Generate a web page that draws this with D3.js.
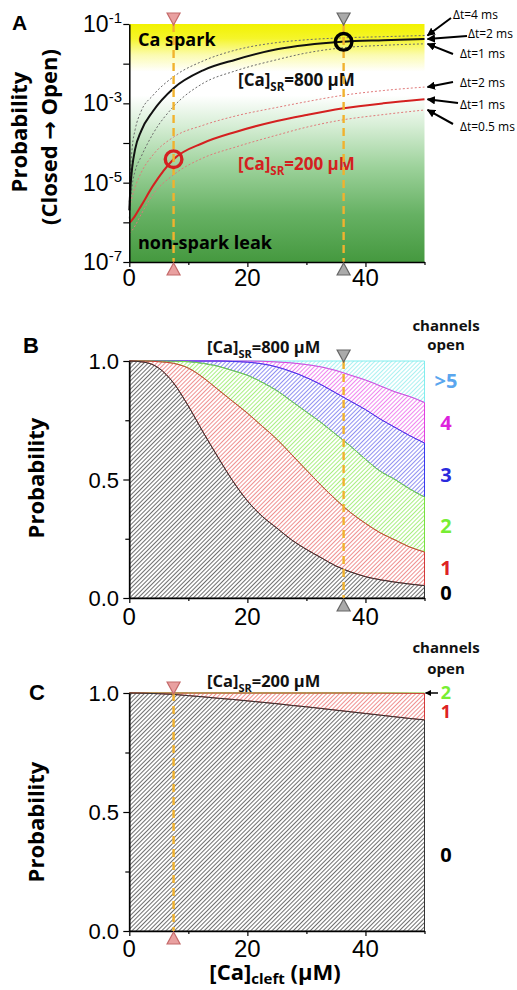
<!DOCTYPE html>
<html><head><meta charset="utf-8">
<script src="https://cdn.jsdelivr.net/npm/d3@7"></script>
<style>body{margin:0;background:#fff} svg{display:block}</style>
</head><body>
<svg id="chart" width="517" height="990"></svg>
<script>
// ---------------- DATA ----------------
// Panel A: opening probability vs [Ca]cleft (uM)
const xA = [0, 0.25, 0.5, 1, 2, 4, 7.5, 12.5, 18, 25, 30, 36, 43, 50];
const a800_4ms = [3.2e-6, 2.5e-5, 7.9e-5, 2.2e-4, 6.3e-4, 1.58e-3, 4.7e-3, 1.17e-2, 2.2e-2, 3.4e-2, 4.0e-2, 4.47e-2, 4.79e-2, 5.13e-2];
const a800_2ms = [2.0e-6, 1.0e-5, 2.5e-5, 7.1e-5, 2.0e-4, 6.3e-4, 2.4e-3, 6.8e-3, 1.26e-2, 2.3e-2, 2.95e-2, 3.55e-2, 3.89e-2, 4.17e-2];
const a800_1ms = [1.26e-6, 4.0e-6, 8.9e-6, 2.0e-5, 4.5e-5, 1.7e-4, 8.3e-4, 3.2e-3, 6.6e-3, 1.26e-2, 1.86e-2, 2.5e-2, 2.9e-2, 3.16e-2];
const a200_2ms = [2.5e-6, 3.2e-6, 4.5e-6, 7.9e-6, 1.78e-5, 5.0e-5, 1.41e-4, 2.8e-4, 4.8e-4, 7.9e-4, 1.1e-3, 1.58e-3, 2.1e-3, 2.57e-3];
const a200_1ms = [1.0e-6, 1.05e-6, 1.17e-6, 1.48e-6, 2.6e-6, 8.3e-6, 3.9e-5, 1.0e-4, 1.9e-4, 3.6e-4, 5.1e-4, 7.4e-4, 1.0e-3, 1.26e-3];
const a200_05ms = [5.4e-7, 5.6e-7, 6.3e-7, 8.3e-7, 1.58e-6, 5.0e-6, 1.58e-5, 4.2e-5, 7.9e-5, 1.58e-4, 2.5e-4, 3.8e-4, 5.2e-4, 6.8e-4];
const yTicksA = [1e-7, 1e-6, 1e-5, 1e-4, 1e-3, 1e-2, 1e-1];
const yLabelExpA = [-1, -3, -5, -7];
const dtLabels800 = ["\u0394t=4 ms", "\u0394t=2 ms", "\u0394t=1 ms"];
const dtLabels200 = ["\u0394t=2 ms", "\u0394t=1 ms", "\u0394t=0.5 ms"];
// marker positions ([Ca]cleft) and circled points
const markRed = 7.5, markGray = 36.3;
const circleRed = [7.5, 3.9e-5];
const circleBlack = [36.3, 3.55e-2];

// Panel B/C: cumulative probability of <= n channels open
const xB = [0, 2.5, 5, 7.5, 10, 12.5, 15, 17.5, 20, 22.5, 25, 27.5, 30, 32.5, 35, 37.5, 40, 42.5, 45, 47.5, 50];
const b0 = [1.0, 0.995, 0.97, 0.907, 0.81, 0.70, 0.595, 0.495, 0.41, 0.345, 0.295, 0.245, 0.205, 0.17, 0.135, 0.11, 0.09, 0.077, 0.067, 0.059, 0.052];
const b1 = [1.0, 1.0, 0.997, 0.99, 0.97, 0.93, 0.88, 0.83, 0.78, 0.725, 0.67, 0.605, 0.54, 0.475, 0.415, 0.36, 0.315, 0.275, 0.245, 0.215, 0.194];
const b2 = [1.0, 1.0, 1.0, 0.999, 0.997, 0.99, 0.978, 0.96, 0.94, 0.91, 0.875, 0.83, 0.785, 0.74, 0.69, 0.64, 0.585, 0.535, 0.50, 0.46, 0.426];
const b3 = [1.0, 1.0, 1.0, 1.0, 1.0, 1.0, 1.0, 0.998, 0.995, 0.988, 0.975, 0.955, 0.93, 0.90, 0.865, 0.83, 0.795, 0.755, 0.72, 0.685, 0.654];
const b4 = [1.0, 1.0, 1.0, 1.0, 1.0, 1.0, 1.0, 1.0, 1.0, 0.999, 0.996, 0.992, 0.985, 0.975, 0.96, 0.94, 0.92, 0.895, 0.87, 0.85, 0.825];
const c0 = [1.0, 0.999, 0.997, 0.994, 0.989, 0.984, 0.978, 0.973, 0.967, 0.961, 0.955, 0.948, 0.942, 0.935, 0.928, 0.921, 0.914, 0.907, 0.90, 0.893, 0.887];
const c1 = [1.0, 1.0, 1.0, 1.0, 1.0, 1.0, 1.0, 1.0, 1.0, 1.0, 1.0, 1.0, 1.0, 1.0, 1.0, 1.0, 0.9995, 0.9993, 0.999, 0.9985, 0.998];
const labelsB = [">5", "4", "3", "2", "1", "0"];
const labelsC = ["2", "1", "0"];
const xTicks = [0, 10, 20, 30, 40, 50];
const xTickLabels = [0, 20, 40];
const yTicksLin = [0, 0.25, 0.5, 0.75, 1.0];
const yTickLabelsLin = [0, 0.5, 1.0];

// ---------------- LAYOUT ----------------
const svg = d3.select("#chart");
const defs = svg.append("defs");
const FT = "'Open Sans', 'DejaVu Sans', sans-serif";
const FN = "'Liberation Sans', Arial, sans-serif";

const x = d3.scaleLinear().domain([0, 50]).range([129.3, 424.5]);
const yA = d3.scaleLog().domain([1e-7, 1e-1]).range([262, 24]);
const yB = d3.scaleLinear().domain([0, 1]).range([598, 361]);
const yC = d3.scaleLinear().domain([0, 1]).range([931, 693]);

// gradient for panel A
const grad = defs.append("linearGradient").attr("id", "gA").attr("x1", 0).attr("y1", 0).attr("x2", 0).attr("y2", 1);
[[0, "#f2f200"], [0.06, "#f5f52a"], [0.13, "#fbfbb0"], [0.2, "#ffffff"], [0.3, "#ffffff"],
 [0.42, "#d9efd8"], [0.6, "#9dd29b"], [0.8, "#66b163"], [1, "#45993f"]].forEach(s =>
  grad.append("stop").attr("offset", s[0]).attr("stop-color", s[1]));

// hatch patterns
function hatch(id, color, sw) {
  const p = defs.append("pattern").attr("id", id).attr("patternUnits", "userSpaceOnUse")
    .attr("width", 3).attr("height", 3).attr("patternTransform", "rotate(45)");
  p.append("line").attr("x1", 1.5).attr("y1", -1).attr("x2", 1.5).attr("y2", 4)
    .attr("stroke", color).attr("stroke-width", sw);
}
const areaStyles = [
  { id: "h0", hatch: "#555555", line: "#333333", sw: 0.85 },
  { id: "h1", hatch: "#ec7c7c", line: "#d23a3a", sw: 0.85 },
  { id: "h2", hatch: "#9aec6a", line: "#77e040", sw: 0.85 },
  { id: "h3", hatch: "#7c7cee", line: "#3a3aee", sw: 0.85 },
  { id: "h4", hatch: "#ec70ec", line: "#e040e0", sw: 0.85 },
  { id: "h5", hatch: "#9cefef", line: "#80eeee", sw: 0.85 }
];
areaStyles.forEach(s => hatch(s.id, s.hatch, s.sw));

// arrow marker
defs.append("marker").attr("id", "arr").attr("viewBox", "0 0 10 10").attr("refX", 9).attr("refY", 5)
  .attr("markerWidth", 4.2).attr("markerHeight", 4.2).attr("orient", "auto-start-reverse")
  .attr("markerUnits", "strokeWidth")
  .append("path").attr("d", "M0,0L10,5L0,10z").attr("fill", "#000");

function xAxis(y0, labelBaseline) {
  const g = svg.append("g").attr("transform", `translate(0,${y0})`)
    .call(d3.axisBottom(x).tickValues(xTicks).tickSize(5).tickSizeOuter(0).tickFormat(""));
  g.select(".domain").attr("stroke", "#000").attr("stroke-width", 1.5);
  g.selectAll(".tick line").attr("stroke", "#000").attr("stroke-width", 1.2)
    .attr("y2", d => xTickLabels.includes(d) ? 5 : 3);
  xTickLabels.forEach(v => svg.append("text").attr("x", x(v)).attr("y", labelBaseline)
    .attr("text-anchor", "middle").attr("font-family", FN).attr("font-size", 24).text(v));
}
function yAxisLin(ys) {
  const g = svg.append("g").attr("transform", `translate(${x(0)},0)`)
    .call(d3.axisLeft(ys).tickValues(yTicksLin).tickSize(6).tickSizeOuter(0).tickFormat(""));
  g.select(".domain").attr("stroke", "#000").attr("stroke-width", 1.5);
  g.selectAll(".tick line").attr("stroke", "#000").attr("stroke-width", 1.2)
    .attr("x2", d => yTickLabelsLin.includes(d) ? -6 : -4);
  yTickLabelsLin.forEach(v => svg.append("text").attr("x", 119).attr("y", ys(v) + 8)
    .attr("text-anchor", "end").attr("font-family", FN).attr("font-size", 22).text(v.toFixed(1)));
}
function tri(cx, tipY, dir, fill, stroke) {
  const h = 12, w = 6.5;
  svg.append("path").attr("d", `M${cx - w},${tipY - dir * h}L${cx + w},${tipY - dir * h}L${cx},${tipY}Z`)
    .attr("fill", fill).attr("stroke", stroke).attr("stroke-width", 1.2);
}
function dashed(xv, yTop, yBot) {
  svg.append("line").attr("x1", x(xv)).attr("x2", x(xv)).attr("y1", yTop).attr("y2", yBot)
    .attr("stroke", "#f1b22e").attr("stroke-width", 2.4).attr("stroke-dasharray", "8,5");
}
function subText(px, py, main, sub, rest, size, subSize, color, anchor) {
  const t = svg.append("text").attr("x", px).attr("y", py).attr("font-family", FT)
    .attr("font-weight", "bold").attr("font-size", size).attr("fill", color)
    .attr("text-anchor", anchor || "start");
  t.append("tspan").text(main);
  t.append("tspan").attr("font-size", subSize).attr("dy", size * 0.28).text(sub);
  t.append("tspan").attr("dy", -size * 0.28).text(rest);
  return t;
}
function boldText(px, py, txt, size, color, anchor) {
  return svg.append("text").attr("x", px).attr("y", py).attr("font-family", FT)
    .attr("font-weight", "bold").attr("font-size", size).attr("fill", color || "#000")
    .attr("text-anchor", anchor || "start").text(txt);
}
function vTitle(px, cy, txt, size) {
  svg.append("text").attr("transform", `translate(${px},${cy}) rotate(-90)`)
    .attr("text-anchor", "middle").attr("font-family", FT).attr("font-weight", "bold")
    .attr("font-size", size).text(txt);
}

// ================= PANEL A =================
svg.append("rect").attr("x", x(0)).attr("y", yA(1e-1)).attr("width", x(50) - x(0))
  .attr("height", yA(1e-7) - yA(1e-1)).attr("fill", "url(#gA)");

boldText(138, 46, "Ca spark", 18);
boldText(138, 249, "non-spark leak", 18);

const lineA = d3.line().x((d, i) => x(xA[i])).y(d => yA(d)).curve(d3.curveMonotoneX);
const seriesA = [
  { v: a800_4ms, c: "#6a6a6a", w: 1, dash: "2,2" },
  { v: a800_1ms, c: "#6a6a6a", w: 1, dash: "2,2" },
  { v: a200_2ms, c: "#e07a7a", w: 1, dash: "2,2" },
  { v: a200_05ms, c: "#e07a7a", w: 1, dash: "2,2" },
  { v: a800_2ms, c: "#111", w: 2, dash: null },
  { v: a200_1ms, c: "#d42020", w: 2, dash: null }
];
seriesA.forEach(s => svg.append("path").attr("d", lineA(s.v)).attr("fill", "none")
  .attr("stroke", s.c).attr("stroke-width", s.w).attr("stroke-dasharray", s.dash));

subText(238, 86, "[Ca]", "SR", "=800 \u03bcM", 17, 11.5, "#111");
subText(238, 170, "[Ca]", "SR", "=200 \u03bcM", 17, 11.5, "#d42020");

dashed(markRed, yA(1e-1), yA(1e-7));
dashed(markGray, yA(1e-1), yA(1e-7));

svg.append("circle").attr("cx", x(circleRed[0])).attr("cy", yA(circleRed[1])).attr("r", 8.3)
  .attr("fill", "none").attr("stroke", "#d42020").attr("stroke-width", 3.4);
svg.append("circle").attr("cx", x(circleBlack[0])).attr("cy", yA(circleBlack[1])).attr("r", 8.3)
  .attr("fill", "none").attr("stroke", "#000").attr("stroke-width", 3.4);

// axes A
(function () {
  const g = svg.append("g").attr("transform", `translate(${x(0)},0)`)
    .call(d3.axisLeft(yA).tickValues(yTicksA).tickSize(6).tickSizeOuter(0).tickFormat(""));
  g.select(".domain").attr("stroke", "#000").attr("stroke-width", 1.5);
  g.selectAll(".tick line").attr("stroke", "#000").attr("stroke-width", 1.2);
  yLabelExpA.forEach(e => {
    const t = svg.append("text").attr("x", 122).attr("y", yA(Math.pow(10, e)) + 8)
      .attr("text-anchor", "end").attr("font-family", FN).attr("font-size", 23);
    t.append("tspan").text("10");
    t.append("tspan").attr("font-size", 15).attr("dy", -9).text(e);
  });
})();
xAxis(yA(1e-7), 286);

tri(x(markRed), yA(1e-1) + 1, 1, "#e9a0a0", "#c46a6a");
tri(x(markRed), yA(1e-7) + 1, -1, "#e9a0a0", "#c46a6a");
tri(x(markGray), yA(1e-1) + 1, 1, "#aaaaaa", "#666");
tri(x(markGray), yA(1e-7) + 1, -1, "#aaaaaa", "#666");

// right-side annotations for panel A
const tipX = x(50) + 3;
const ends800 = [a800_4ms, a800_2ms, a800_1ms].map(a => yA(a[a.length - 1]));
const ends200 = [a200_2ms, a200_1ms, a200_05ms].map(a => yA(a[a.length - 1]));
const tails800 = [[451, 18], [467, 36], [453, 54]];
const tails200 = [[453, 82], [458, 103], [453, 124]];
const txt800 = [[453, 19], [468, 38], [460, 58]];
const txt200 = [[460, 87], [460, 109], [460, 131]];
function arrows(ends, tails, labels, pos) {
  ends.forEach((ey, i) => {
    svg.append("line").attr("x1", tails[i][0]).attr("y1", tails[i][1]).attr("x2", tipX).attr("y2", ey)
      .attr("stroke", "#000").attr("stroke-width", 2).attr("marker-end", "url(#arr)");
    svg.append("text").attr("x", pos[i][0]).attr("y", pos[i][1]).attr("font-family", FT)
      .attr("font-size", 12).text(labels[i]);
  });
}
arrows(ends800, tails800, dtLabels800, txt800);
arrows(ends200, tails200, dtLabels200, txt200);

vTitle(27, 132, "Probability", 22);
vTitle(57, 137, "(Closed \u2192 Open)", 22);
svg.append("text").attr("x", 12).attr("y", 30).attr("font-family", FN).attr("font-weight", "bold")
  .attr("font-size", 21).text("A");

// ================= PANEL B =================
const boundsB = [b0, b1, b2, b3, b4];
function stackedPanel(ys, bounds, nAreas) {
  for (let k = nAreas - 1; k >= 0; k--) {
    const lower = k === 0 ? null : bounds[k - 1];
    const upper = k < bounds.length ? bounds[k] : null;
    const area = d3.area().x((d, i) => x(xB[i]))
      .y0((d, i) => ys(lower ? lower[i] : 0))
      .y1((d, i) => ys(upper ? upper[i] : 1))
      .curve(d3.curveMonotoneX);
    const st = areaStyles[k];
    svg.append("path").attr("d", area(xB)).attr("fill", `url(#${st.id})`)
      .attr("stroke", st.line).attr("stroke-width", 1);
  }
}
stackedPanel(yB, boundsB, 6);
yAxisLin(yB);
xAxis(yB(0), 625);
dashed(markGray, yB(1), yB(0));
tri(x(markGray), yB(1) + 1, 1, "#aaaaaa", "#666");
tri(x(markGray), yB(0) + 1, -1, "#aaaaaa", "#666");
subText(207, 353, "[Ca]", "SR", "=800 \u03bcM", 16.5, 11, "#111");
boldText(446, 331, "channels", 15, "#111", "middle");
boldText(446, 350, "open", 15, "#111", "middle");
const colB = ["#5aa6ee", "#dd22dd", "#2a2add", "#77ee33", "#dd2222", "#000"];
const baseB = [388, 430, 482, 533, 575, 600];
labelsB.forEach((l, i) => boldText(446, baseB[i], l, 20, colB[i], "middle"));
vTitle(44, 478, "Probability", 22);
svg.append("text").attr("x", 23).attr("y", 353).attr("font-family", FN).attr("font-weight", "bold")
  .attr("font-size", 22).text("B");

// ================= PANEL C =================
const boundsC = [c0, c1];
stackedPanel(yC, boundsC, 3);
yAxisLin(yC);
xAxis(yC(0), 957);
dashed(markRed, yC(1), yC(0));
tri(x(markRed), yC(1) + 1, 1, "#e9a0a0", "#c46a6a");
tri(x(markRed), yC(0) + 1, -1, "#e9a0a0", "#c46a6a");
subText(207, 687, "[Ca]", "SR", "=200 \u03bcM", 16.5, 11, "#111");
boldText(446, 653, "channels", 15, "#111", "middle");
boldText(446, 674, "open", 15, "#111", "middle");
const colC = ["#77ee33", "#dd2222", "#000"];
const baseC = [699, 718, 862];
const sizeC = [18, 18, 20];
labelsC.forEach((l, i) => boldText(446, baseC[i], l, sizeC[i], colC[i], "middle"));
svg.append("line").attr("x1", 438).attr("y1", yC(1)).attr("x2", x(50) + 1).attr("y2", yC(1))
  .attr("stroke", "#000").attr("stroke-width", 1.5).attr("marker-end", "url(#arr)");
vTitle(44, 822, "Probability", 22);
svg.append("text").attr("x", 29).attr("y", 700).attr("font-family", FN).attr("font-weight", "bold")
  .attr("font-size", 22).text("C");

// x-axis title
(function () {
  const t = svg.append("text").attr("x", 275).attr("y", 980).attr("text-anchor", "middle")
    .attr("font-family", FT).attr("font-weight", "bold").attr("font-size", 22);
  t.append("tspan").text("[Ca]");
  t.append("tspan").attr("font-size", 15).attr("dy", 4).text("cleft");
  t.append("tspan").attr("dy", -4).text(" (\u03bcM)");
})();
</script>
</body></html>
